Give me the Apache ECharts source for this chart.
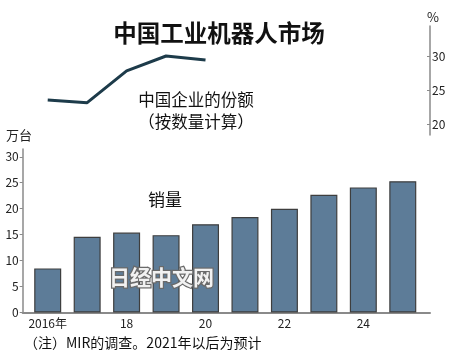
<!DOCTYPE html>
<html>
<head>
<meta charset="utf-8">
<script src="https://cdn.jsdelivr.net/npm/echarts@6/dist/echarts.min.js"></script>
<style>
html,body{margin:0;padding:0;background:#fff;}
#c{width:450px;height:356px;}
</style>
</head>
<body>
<div id="c"></div>
<script>
// Data
const years = [2016, 2017, 2018, 2019, 2020, 2021, 2022, 2023, 2024, 2025];
const sales = [8.5, 14.6, 15.4, 14.9, 17.0, 18.4, 20.0, 22.7, 24.1, 25.3];
const shareYears = [2016, 2017, 2018, 2019, 2020];
const shareValues = [23.6, 23.2, 27.9, 30.1, 29.5];
const xTickYears = [2016, 2018, 2020, 2022, 2024];
const salesTicks = [0, 5, 10, 15, 20, 25, 30];
const shareTicks = [20, 25, 30];

const NARROW = "'Liberation Sans Narrow', 'Noto Sans CJK SC', sans-serif";
const CJK = "'Noto Sans CJK SC', sans-serif";

const chart = echarts.init(document.getElementById('c'), null, {renderer: 'canvas'});
const xMin = 2015.366, xMax = 2025.69;

chart.setOption({
  backgroundColor: '#ffffff',
  animation: false,
  grid: [
    {left: 22.7, right: 20, top: 149, bottom: 43.5},
    {left: 22.7, right: 20, top: 26, bottom: 221}
  ],
  xAxis: [
    {
      type: 'value', gridIndex: 0, min: xMin, max: xMax,
      splitLine: {show: false},
      axisLine: {show: true, lineStyle: {color: '#8a8a8a', width: 2}},
      axisTick: {show: false},
      axisLabel: {
        customValues: xTickYears,
        formatter: v => (v === 2016 ? '2016年' : String(v % 100)),
        fontFamily: NARROW, fontSize: 12, color: '#222', margin: 5
      }
    },
    {
      type: 'value', gridIndex: 1, min: xMin, max: xMax, show: false
    }
  ],
  yAxis: [
    {
      type: 'value', gridIndex: 0, min: 0, max: 31.5,
      splitLine: {show: false},
      axisLine: {show: true, lineStyle: {color: '#8a8a8a', width: 1.5}},
      axisTick: {show: true, customValues: salesTicks, length: 3, lineStyle: {color: '#8a8a8a'}},
      axisLabel: {customValues: salesTicks, fontFamily: NARROW, fontSize: 12, color: '#222', margin: 4}
    },
    {
      type: 'value', gridIndex: 1, position: 'right', min: 18.42, max: 34.54,
      splitLine: {show: false},
      axisLine: {show: true, lineStyle: {color: '#8a8a8a', width: 1.5}},
      axisTick: {show: true, inside: true, customValues: shareTicks, length: 3, lineStyle: {color: '#8a8a8a'}},
      axisLabel: {customValues: shareTicks, fontFamily: NARROW, fontSize: 12, color: '#222', margin: 2}
    }
  ],
  series: [
    {
      type: 'bar', xAxisIndex: 0, yAxisIndex: 0,
      data: years.map((y, i) => [y, sales[i]]),
      barWidth: 27,
      itemStyle: {color: '#5d7c98', borderColor: '#3e3e3e', borderWidth: 1.2}
    },
    {
      type: 'line', xAxisIndex: 1, yAxisIndex: 1,
      data: shareYears.map((y, i) => [y, shareValues[i]]),
      symbol: 'none',
      lineStyle: {color: '#1d3b4a', width: 3}
    }
  ],
  graphic: [
    {type: 'text', x: 219, y: 33, style: {text: '中国工业机器人市场', font: 'bold 23.5px ' + CJK, fill: '#111', textAlign: 'center', textVerticalAlign: 'middle'}},
    {type: 'text', x: 196, y: 100, style: {text: '中国企业的份额', font: '16.5px ' + CJK, fill: '#111', textAlign: 'center', textVerticalAlign: 'middle'}},
    {type: 'text', x: 196, y: 122, style: {text: '（按数量计算）', font: '16.5px ' + CJK, fill: '#111', textAlign: 'center', textVerticalAlign: 'middle'}},
    {type: 'text', x: 6, y: 135, style: {text: '万台', font: '13px ' + CJK, fill: '#222', textAlign: 'left', textVerticalAlign: 'middle'}},
    {type: 'text', x: 433, y: 17, style: {text: '%', font: '13px ' + NARROW, fill: '#222', textAlign: 'center', textVerticalAlign: 'middle'}},
    {type: 'text', x: 165, y: 200, style: {text: '销量', font: '17px ' + CJK, fill: '#111', textAlign: 'center', textVerticalAlign: 'middle'}},
    {type: 'text', x: 161.5, y: 277, z: 100, style: {text: '日经中文网', font: 'bold 21px ' + CJK, fill: '#f2f2f2', stroke: '#6a6a6a', lineWidth: 2.5, textAlign: 'center', textVerticalAlign: 'middle'}},
    {type: 'text', x: 24, y: 343, style: {text: '（注）MIR的调查。2021年以后为预计', font: '14px ' + NARROW, fill: '#111', textAlign: 'left', textVerticalAlign: 'middle'}}
  ]
});
</script>
</body>
</html>
